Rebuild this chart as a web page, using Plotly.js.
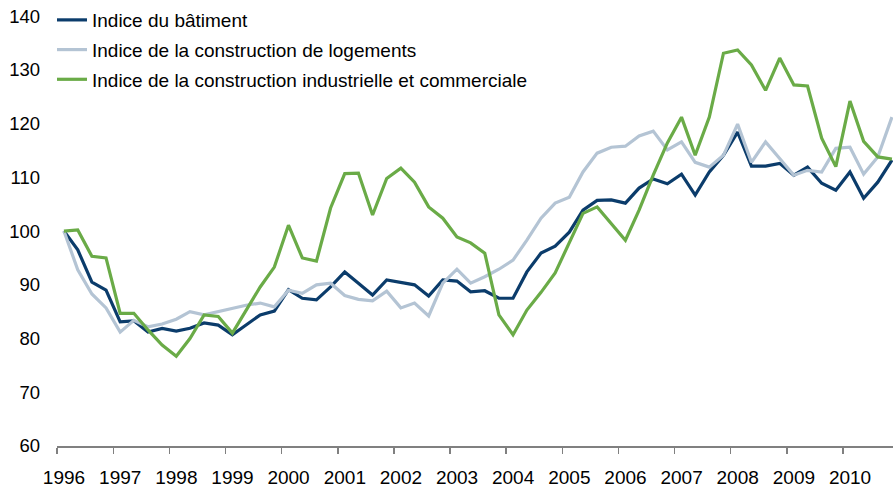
<!DOCTYPE html>
<html>
<head>
<meta charset="utf-8">
<script src="https://cdn.plot.ly/plotly-3.0.1.min.js"></script>
<style>html,body{margin:0;padding:0;background:#fff;}#chart{width:893px;height:487px;}</style>
</head>
<body>
<div id="chart"></div>
<script>
// Quarterly periods 1996 T1 – 2010 T4 (plotted at mid-quarter)
var firstYear = 1996;
var lastYear = 2010;
var quarterMid = ['02-15', '05-15', '08-15', '11-15'];

var seriesNames = [
  'Indice du bâtiment',
  'Indice de la construction de logements',
  'Indice de la construction industrielle et commerciale'
];

var batiment = [
  100, 96.5, 90.5, 89,
  83.1, 83.3, 81.2, 81.9,
  81.4, 81.9, 82.9, 82.5,
  80.7, 82.5, 84.4, 85.1,
  89.1, 87.5, 87.2, 89.6,
  92.4, 90.3, 88.1, 90.9,
  90.4, 90, 87.9, 90.9,
  90.7, 88.7, 88.9, 87.5,
  87.5, 92.4, 95.9, 97.2,
  99.8, 103.9, 105.7, 105.8,
  105.2, 108, 109.7, 108.8,
  110.6, 106.7, 111, 114.1,
  118.4, 112.1, 112.1, 112.6,
  110.4, 111.9, 108.9, 107.6,
  111, 106.1, 109.1, 113.2
];

var logements = [
  100, 92.8, 88.3, 85.7,
  81.2, 83.4, 82.2, 82.7,
  83.6, 85, 84.4, 85,
  85.5, 86.2, 86.6, 85.9,
  89, 88.4, 90, 90.3,
  88, 87.3, 87, 88.8,
  85.7, 86.6, 84.2, 90.3,
  92.9, 90.3, 91.5, 92.9,
  94.6, 98.3, 102.4, 105.2,
  106.3, 111, 114.5, 115.6,
  115.8, 117.7, 118.6, 115.1,
  116.6, 112.8, 111.9, 114.1,
  119.9, 112.8, 116.6, 113.6,
  110.4, 111.3, 111, 115.4,
  115.6, 110.6, 113.8, 121.2
];

var industrielle = [
  100, 100.2, 95.3, 95,
  84.7, 84.7, 81.6, 78.8,
  76.7, 80, 84.4, 84.1,
  81, 85.3, 89.6, 93.3,
  101.1, 95, 94.4, 104.3,
  110.7, 110.8, 103, 109.8,
  111.7, 109.1, 104.5, 102.4,
  98.9, 97.8, 95.9, 84.4,
  80.7, 85.3, 88.6, 92.2,
  98, 103.3, 104.5, 101.5,
  98.3, 103.9, 110.4, 116.4,
  121.2, 114.1, 121.2, 133.1,
  133.7, 130.9, 126.2, 132.2,
  127.2, 127, 117.3, 112,
  124.2, 116.7, 113.8, 113.4
];

var seriesColors = ['#0b3c6b', '#b4c4d4', '#6aab47'];

var periods = [];
for (var y = firstYear; y <= lastYear; y++) {
  for (var q = 0; q < 4; q++) periods.push(y + '-' + quarterMid[q]);
}

var seriesValues = [batiment, logements, industrielle];
var traces = seriesValues.map(function (vals, i) {
  return {
    type: 'scatter',
    mode: 'lines',
    x: periods,
    y: vals,
    name: seriesNames[i],
    legendgroup: 'g' + i,
    line: {color: seriesColors[i], width: 3.2},
    hoverinfo: 'skip'
  };
});

var fontFamily = '"Liberation Sans", Arial, Helvetica, sans-serif';

var layout = {
  width: 893,
  height: 487,
  margin: {l: 57, r: 0, t: 14, b: 41, pad: 0},
  paper_bgcolor: '#ffffff',
  plot_bgcolor: '#ffffff',
  font: {family: fontFamily, size: 18, color: '#000000'},
  showlegend: true,
  legend: {
    x: -0.006, y: 1.030, xanchor: 'left', yanchor: 'top',
    bgcolor: '#ffffff', bordercolor: '#ffffff', borderwidth: 0,
    traceorder: 'grouped', tracegroupgap: 2,
    font: {family: fontFamily, size: 19, color: '#000000'}
  },
  xaxis: {
    type: 'date',
    range: ['1996-01-01', '2010-11-22'],
    tick0: '1996-01-01',
    dtick: 'M12',
    tickformat: '%Y',
    ticks: 'outside',
    ticklen: 6,
    tickwidth: 1.5,
    tickcolor: '#808080',
    ticklabelshift: 7,
    ticklabelstandoff: 7,
    showline: true,
    linecolor: '#808080',
    linewidth: 2,
    showgrid: false,
    zeroline: false,
    fixedrange: true,
    tickfont: {family: fontFamily, size: 19, color: '#000000'}
  },
  yaxis: {
    range: [60, 140.4],
    tick0: 60,
    dtick: 10,
    ticks: '',
    ticklabelstandoff: 16,
    showgrid: false,
    showline: false,
    zeroline: false,
    fixedrange: true,
    tickfont: {family: fontFamily, size: 18.5, color: '#000000'}
  },
  yaxis2: {
    overlaying: 'y',
    range: [60, 140.4],
    tick0: 60,
    dtick: 20,
    showticklabels: false,
    ticks: '',
    showgrid: true,
    gridcolor: '#868686',
    gridwidth: 2,
    showline: false,
    zeroline: false,
    fixedrange: true
  },
  yaxis3: {
    overlaying: 'y',
    range: [60, 140.4],
    tick0: 70,
    dtick: 20,
    showticklabels: false,
    ticks: '',
    showgrid: true,
    gridcolor: '#000000',
    gridwidth: 1,
    showline: false,
    zeroline: false,
    fixedrange: true
  }
};

Plotly.newPlot('chart', traces, layout, {displayModeBar: false, staticPlot: true});
</script>
</body>
</html>
